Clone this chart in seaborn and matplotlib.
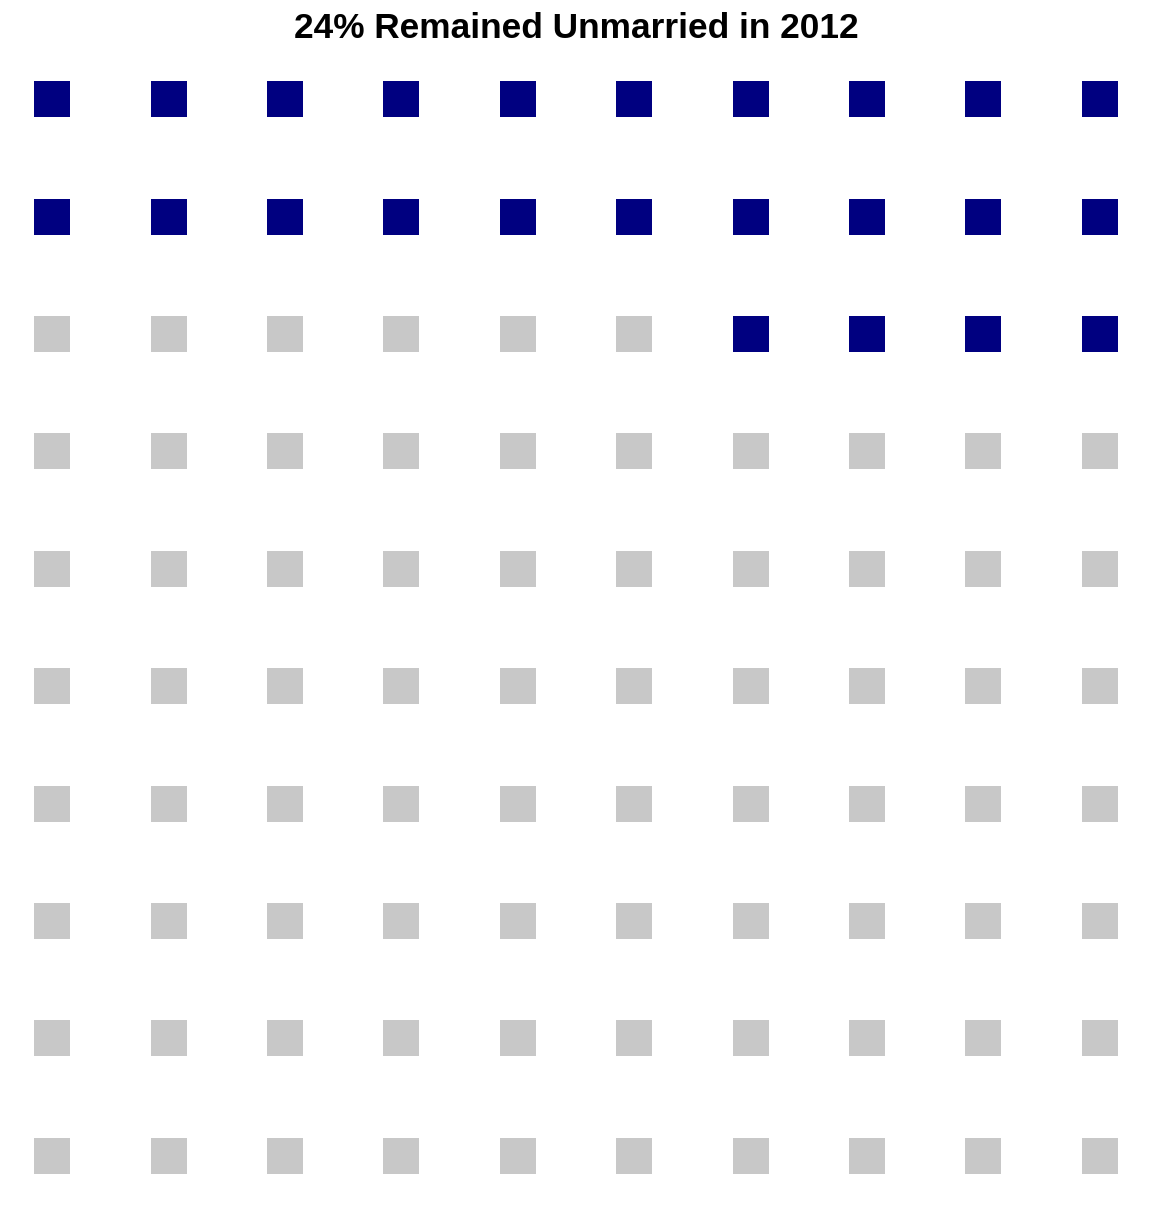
import numpy as np
import pandas as pd
import matplotlib
matplotlib.use('Agg')
import matplotlib.pyplot as plt
import seaborn as sns

# 데이터
title = '24% Remained Unmarried in 2012'
categories = ['Married', 'Unmarried']
counts = [76, 24]
n_rows = 10
n_cols = 10
colors = {'Married': '#C8C8C8', 'Unmarried': '#000080'}

# 셀 순서: 아래 행부터 왼쪽 -> 오른쪽
labels = np.repeat(categories, counts)
cells = []
for k, lab in enumerate(labels):
    row_from_bottom = k // n_cols
    col = k % n_cols
    cells.append({'col': col, 'row': n_rows - 1 - row_from_bottom, 'group': lab})
df = pd.DataFrame(cells)

sns.set_theme(style='white')
plt.rcParams['font.family'] = ['Liberation Sans', 'DejaVu Sans']

fig = plt.figure(figsize=(11.52, 12.09), dpi=100)
ax = fig.add_axes([0, 0, 1, 1])

side_pt = 36 * 72 / 100
sns.scatterplot(data=df, x='col', y='row', hue='group', palette=colors,
                marker='s', s=side_pt ** 2, linewidth=0, legend=False, ax=ax)

# 픽셀 위치 맞추기
dx = 116.38
dy = 117.38
ax.set_xlim(-52.3 / dx, (1152 - 52.3) / dx)
ax.set_ylim((1209 - 99.3) / dy, -99.3 / dy)
ax.set_axis_off()

fig.text(0.5, 1 - 28 / 1209, title, ha='center', va='center',
         fontsize=25.4, fontweight='bold', color='black')

fig.savefig('out.png', dpi=100)
